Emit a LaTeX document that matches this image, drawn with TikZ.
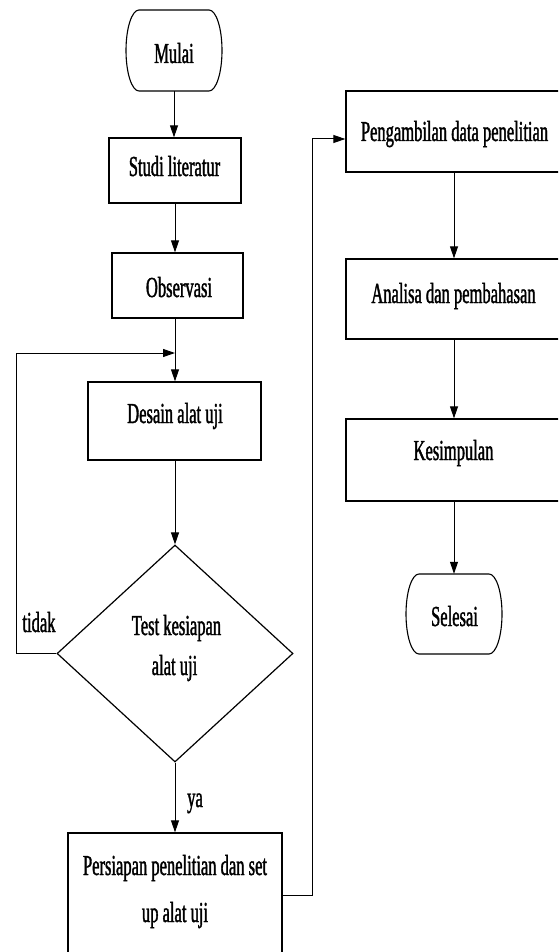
\documentclass[tikz,border=0pt]{standalone}
\usepackage{fontspec}
\setmainfont{Liberation Serif}[FakeStretch=0.57,FakeBold=1.3]
\usetikzlibrary{arrows.meta,shapes.geometric}
\begin{document}
\begin{tikzpicture}[x=1pt,y=-1pt,
  box/.style={draw, line width=1.3pt, inner sep=0pt},
  term/.style={inner sep=0pt},
  termline/.style={line width=1.1pt},
  lbl/.style={anchor=base, inner sep=0pt, font=\fontsize{29}{35}\selectfont},
  conn/.style={line width=1pt, -{Triangle[length=12pt,width=8pt]}}]
\useasboundingbox (0,0) rectangle (558,952);
\clip (0,0) rectangle (558,952);
% left column shapes
\node[term, minimum width=96pt, minimum height=81pt] (mulai) at (174,50.5) {};
\draw[termline] (139,10) -- (209,10) arc[start angle=-90, end angle=90, x radius=13, y radius=40.5]
  -- (139,91) arc[start angle=90, end angle=270, x radius=13, y radius=40.5] -- cycle;
\node[box, minimum width=132pt, minimum height=65pt] (studi) at (175,170.5) {};
\node[box, minimum width=131pt, minimum height=65pt] (obs) at (177.5,285.5) {};
\node[box, minimum width=173pt, minimum height=78pt] (desain) at (174.5,421) {};
\node[diamond, draw, line width=1.2pt, inner sep=0pt, minimum width=236pt, minimum height=217pt] (dia) at (175,653.5) {};
\node[box, minimum width=214pt, minimum height=137pt] (pers) at (175,901.5) {};
% right column shapes
\node[box, minimum width=216pt, minimum height=81pt] (peng) at (454,131.5) {};
\node[box, minimum width=216pt, minimum height=80pt] (ana) at (454,299) {};
\node[box, minimum width=216pt, minimum height=82pt] (kes) at (454,460) {};
\node[term, minimum width=96pt, minimum height=80pt] (sel) at (454,614) {};
\draw[termline] (419,574) -- (489,574) arc[start angle=-90, end angle=90, x radius=13, y radius=40]
  -- (419,654) arc[start angle=90, end angle=270, x radius=13, y radius=40] -- cycle;
% texts
\node[lbl] (tmulai) at (174,63) {Mulai};
\node[lbl] (tstudi) at (174.5,176) {Studi literatur};
\node[lbl] (tobs) at (179,297) {Observasi};
\node[lbl] (tdesain) at (175,423) {Desain alat uji};
\node[lbl] (ttest1) at (176.5,635) {Test kesiapan};
\node[lbl] (ttest2) at (174.5,675) {alat uji};
\node[lbl] (ttidak) at (39,632) {tidak};
\node[lbl] (tya) at (195,807) {ya};
\node[lbl] (tpers1) at (175,875) {Persiapan penelitian dan set};
\node[lbl] (tpers2) at (175,922) {up alat uji};
\node[lbl] (tpeng) at (454.5,141) {Pengambilan data penelitian};
\node[lbl] (tana) at (453.5,303) {Analisa dan pembahasan};
\node[lbl] (tkes) at (453.5,460) {Kesimpulan};
\node[lbl] (tsel) at (454.5,626) {Selesai};
% helper coordinates
\coordinate (looptop) at (16,353);
\coordinate (jx) at (312,139);
\coordinate (py) at (0,895);
% connectors
\draw[conn] (mulai.south) -- (mulai.south |- studi.north);
\draw[conn] (studi.south) -- (studi.south |- obs.north);
\draw[conn] (dia.north |- obs.south) -- (dia.north |- desain.north);
\draw[conn] (dia.west) -- (dia.west -| looptop) -- (looptop) -- (looptop -| dia.north);
\draw[conn] (dia.north |- desain.south) -- (dia.north);
\draw[conn] (dia.south) -- (dia.south |- pers.north);
\draw[conn] (pers.east |- py) -- (jx |- py) -- (jx) -- (jx -| peng.west);
\draw[conn] (peng.south) -- (ana.north);
\draw[conn] (ana.south) -- (kes.north);
\draw[conn] (kes.south) -- (sel.north);
\end{tikzpicture}
\end{document}
